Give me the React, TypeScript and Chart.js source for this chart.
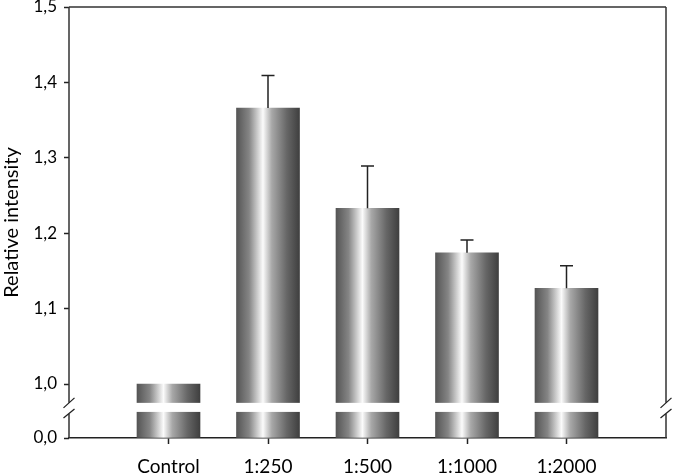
import React, { useEffect, useRef } from 'react';
import { Chart, registerables } from 'chart.js';

Chart.register(...registerables);

// ---- data ----
const categories = ['', 'Control', '1:250', '1:500', '1:1000', '1:2000', ''];
const means: (number | null)[] = [null, 1.0, 1.366, 1.233, 1.174, 1.127, null];
const errorTops: (number | null)[] = [null, null, 1.409, 1.289, 1.191, 1.157, null];
// the "0,0" tick sits on the compressed part below the axis break
const yTickValues = [0.9284, 1.0, 1.1, 1.2, 1.3, 1.4, 1.5];
const yTickLabels = ['0,0', '1,0', '1,1', '1,2', '1,3', '1,4', '1,5'];
const breakBand = [0.963, 0.975];

const FONT = 'Lato, "Open Sans", sans-serif';
const BAR_W = 63;

const overlayPlugin = {
  id: 'overlay',
  afterDatasetsDraw(chart: any) {
    const { ctx, chartArea, scales } = chart;
    const xs = scales.x;
    const ys = scales.y;
    ctx.save();
    // error bars
    ctx.strokeStyle = '#222';
    ctx.lineWidth = 1.5;
    errorTops.forEach((t, i) => {
      const m = means[i];
      if (t == null || m == null) return;
      const cx = xs.getPixelForValue(i);
      const y0 = ys.getPixelForValue(m);
      const y1 = ys.getPixelForValue(t);
      ctx.beginPath();
      ctx.moveTo(cx, y0);
      ctx.lineTo(cx, y1);
      ctx.moveTo(cx - 6.5, y1);
      ctx.lineTo(cx + 6.5, y1);
      ctx.stroke();
    });
    // white break band
    const bTop = ys.getPixelForValue(breakBand[1]);
    const bBot = ys.getPixelForValue(breakBand[0]);
    ctx.fillStyle = '#fff';
    ctx.fillRect(chartArea.left - 8, bTop, chartArea.right - chartArea.left + 16, bBot - bTop);
    // frame lines
    ctx.strokeStyle = '#333';
    ctx.lineWidth = 1.5;
    const L = chartArea.left;
    const R = chartArea.right;
    const T = chartArea.top;
    const B = chartArea.bottom;
    ctx.beginPath();
    ctx.moveTo(L, T);
    ctx.lineTo(R, T);
    [L, R].forEach((x) => {
      ctx.moveTo(x, T);
      ctx.lineTo(x, bTop);
      ctx.moveTo(x, bBot + 2);
      ctx.lineTo(x, B);
    });
    ctx.stroke();
    // slashes
    ctx.lineWidth = 1.3;
    ctx.strokeStyle = '#222';
    [L, R].forEach((x) => {
      ctx.beginPath();
      ctx.moveTo(x - 5.5, bTop + 5);
      ctx.lineTo(x + 5.5, bTop - 5);
      ctx.moveTo(x - 5.5, bBot + 6);
      ctx.lineTo(x + 5.5, bBot - 3);
      ctx.stroke();
    });
    ctx.restore();
  },
};

export default function App() {
  const ref = useRef<HTMLCanvasElement | null>(null);
  useEffect(() => {
    document.body.style.margin = '0';
    const canvas = ref.current;
    if (!canvas) return;
    const chart = new Chart(canvas, {
      type: 'bar',
      data: {
        labels: categories,
        datasets: [
          {
            data: means as any,
            base: yTickValues[0],
            barThickness: BAR_W,
            borderWidth: 0,
            backgroundColor: (c: any) => {
              const ch = c.chart;
              const xs = ch.scales && ch.scales.x;
              if (!xs || c.dataIndex == null) return '#888';
              const cx = xs.getPixelForValue(c.dataIndex);
              if (!Number.isFinite(cx)) return '#888';
              const g = ch.ctx.createLinearGradient(cx - BAR_W / 2, 0, cx + BAR_W / 2, 0);
              g.addColorStop(0, '#555555');
              g.addColorStop(0.2, '#858585');
              g.addColorStop(0.42, '#fbfbfb');
              g.addColorStop(0.56, '#a8a8a8');
              g.addColorStop(0.8, '#666666');
              g.addColorStop(1, '#3f3f3f');
              return g;
            },
          } as any,
        ],
      },
      options: {
        responsive: false,
        animation: false,
        layout: { padding: { left: 0, right: 9, top: 0, bottom: 0 } },
        plugins: { legend: { display: false }, tooltip: { enabled: false } },
        scales: {
          x: {
            type: 'category',
            offset: false,
            grid: {
              display: true,
              offset: false,
              drawOnChartArea: false,
              tickLength: 6,
              tickWidth: 1.5,
              tickColor: (c: any) =>
                c.index === 0 || c.index === categories.length - 1 ? 'rgba(0,0,0,0)' : '#222',
            },
            border: { display: true, color: '#222', width: 1.5 },
            ticks: {
              autoSkip: false,
              maxRotation: 0,
              padding: 11,
              color: '#000',
              font: { family: FONT, size: 19 },
            },
            afterFit: (s: any) => {
              s.height = 38;
            },
          },
          y: {
            min: yTickValues[0],
            max: 1.5,
            afterBuildTicks: (s: any) => {
              s.ticks = yTickValues.map((v) => ({ value: v }));
            },
            grid: {
              drawOnChartArea: false,
              tickLength: 5,
              tickWidth: 1.5,
              tickColor: '#222',
            },
            border: { display: false },
            ticks: {
              callback: (_v: any, i: number) => yTickLabels[i],
              padding: 7,
              color: '#000',
              font: { family: FONT, size: 17 },
            },
            title: {
              display: true,
              text: 'Relative intensity',
              color: '#000',
              font: { family: FONT, size: 20 },
              padding: { top: 0, bottom: 0 },
            },
            afterFit: (s: any) => {
              s.width = 69;
              s.paddingTop = 7;
              s.paddingBottom = 0;
            },
          },
        },
      } as any,
      plugins: [overlayPlugin],
    });
    return () => chart.destroy();
  }, []);
  return (
    <div style={{ width: 677, height: 476 }}>
      <canvas ref={ref} width={677} height={476} style={{ display: 'block' }} />
    </div>
  );
}
